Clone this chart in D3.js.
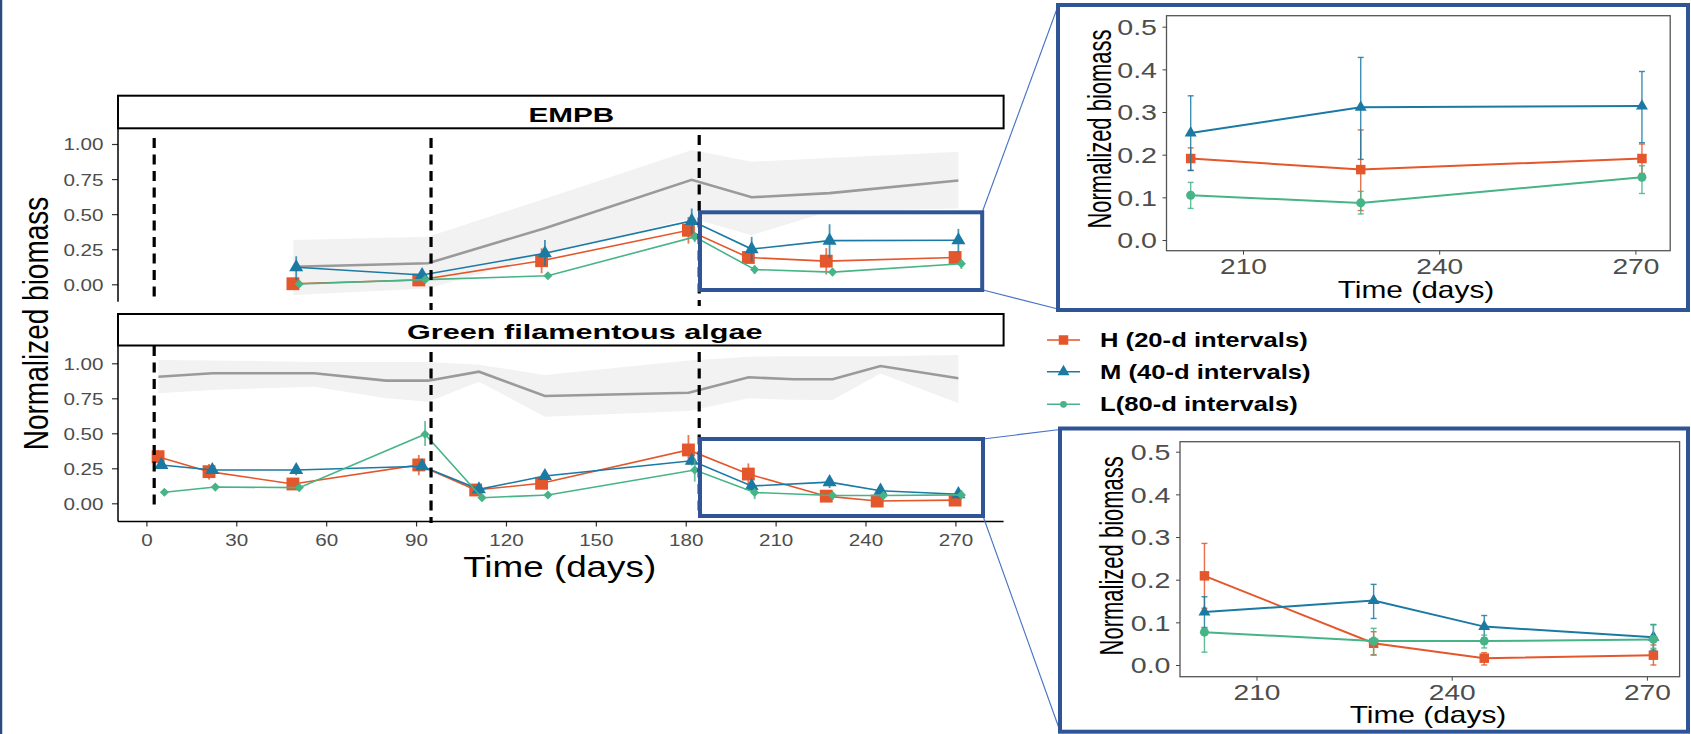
<!DOCTYPE html>
<html>
<head>
<meta charset="utf-8">
<script src="https://cdn.jsdelivr.net/npm/d3@7"></script>
<style>
  body { margin: 0; background: #fff; }
  svg { display: block; }
</style>
</head>
<body>
<div id="chart"></div>
<script>
// sampling days and normalized biomass (mean, lower, upper)
var seriesNames = ['H (20-d intervals)', 'M (40-d intervals)', 'L(80-d intervals)'];
var vlineDays = [2.6, 95, 184.5];

var empbDays = [50, 92, 133, 182, 202, 228, 271];
var empbH = [0.004, 0.031, 0.168, 0.385, 0.191, 0.165, 0.191];
var empbHLo = [0.0, 0.015, 0.079, 0.29, 0.163, 0.069, 0.156];
var empbHHi = [0.01, 0.05, 0.257, 0.48, 0.216, 0.258, 0.225];
var empbM = [0.121, 0.066, 0.221, 0.452, 0.251, 0.311, 0.314];
var empbMLo = [0.03, 0.04, 0.13, 0.36, 0.163, 0.189, 0.228];
var empbMHi = [0.2, 0.09, 0.316, 0.54, 0.338, 0.428, 0.395];
var empbL = [0.002, 0.033, 0.061, 0.338, 0.105, 0.087, 0.147];
var empbLLo = [0.0, 0.02, 0.05, 0.3, 0.074, 0.061, 0.109];
var empbLHi = [0.01, 0.045, 0.07, 0.37, 0.135, 0.114, 0.174];

var algaeDays = [5, 22, 50, 92, 111, 133, 182, 202, 228, 245, 271];
var algaeH = [0.333, 0.226, 0.138, 0.274, 0.095, 0.143, 0.381, 0.209, 0.051, 0.016, 0.023];
var algaeHLo = [0.29, 0.17, 0.12, 0.2, 0.08, 0.12, 0.274, 0.133, 0.024, 0.0, 0.0];
var algaeHHi = [0.38, 0.28, 0.16, 0.345, 0.11, 0.17, 0.488, 0.285, 0.078, 0.029, 0.047];
var algaeM = [0.274, 0.238, 0.238, 0.265, 0.1, 0.195, 0.304, 0.124, 0.151, 0.09, 0.065];
var algaeMLo = [0.25, 0.21, 0.2, 0.24, 0.08, 0.17, 0.27, 0.088, 0.109, 0.064, 0.035];
var algaeMHi = [0.3, 0.265, 0.27, 0.29, 0.12, 0.22, 0.335, 0.16, 0.189, 0.116, 0.095];
var algaeL = [0.079, 0.116, 0.112, 0.493, 0.04, 0.059, 0.238, 0.077, 0.056, 0.056, 0.06];
var algaeLLo = [0.07, 0.105, 0.1, 0.41, 0.03, 0.05, 0.155, 0.03, 0.023, 0.04, 0.039];
var algaeLHi = [0.09, 0.127, 0.125, 0.588, 0.05, 0.068, 0.32, 0.086, 0.086, 0.07, 0.094];

// grey reference (control) line with its band
var ctrlEmpbDays = [49, 94, 133, 182, 202, 228, 271];
var ctrlEmpb = [0.125, 0.15, 0.4, 0.745, 0.62, 0.65, 0.74];
var ctrlEmpbLo = [-0.076, -0.03, 0.21, 0.47, 0.35, 0.52, 0.54];
var ctrlEmpbHi = [0.316, 0.339, 0.61, 0.957, 0.874, 0.9, 0.945];

var ctrlAlgaeDays = [4, 22, 56, 80, 94, 111, 133, 181, 201, 216, 229, 245, 271];
var ctrlAlgae = [0.904, 0.929, 0.929, 0.876, 0.876, 0.94, 0.766, 0.79, 0.9, 0.886, 0.886, 0.981, 0.893];
var ctrlAlgaeLo = [0.786, 0.81, 0.833, 0.75, 0.726, 0.869, 0.619, 0.66, 0.75, 0.74, 0.738, 0.928, 0.714];
var ctrlAlgaeHi = [1.024, 1.02, 1.01, 1.01, 1.01, 0.99, 0.916, 1.02, 1.047, 1.05, 1.05, 1.05, 1.06];

var mainXTicks = [0, 30, 60, 90, 120, 150, 180, 210, 240, 270];
var mainYTicks = [0, 0.25, 0.5, 0.75, 1];
var insetXTicks = [210, 240, 270];
var insetYTicks = [0, 0.1, 0.2, 0.3, 0.4, 0.5];

var colors = ['#E4562B', '#1A7AA3', '#46B487'];
var dodge = [-1.1, 0, 1];
var frameBlue = '#2F5597';
var font = '"Liberation Sans", Arial, Helvetica, sans-serif';

var W = 1691, H = 734;

var svg = d3.select('#chart')
  .append('svg')
  .attr('width', W)
  .attr('height', H)
  .style('font-family', font);

svg.append('rect').attr('width', W).attr('height', H).attr('fill', '#fff');

var rows = function(days, vals, lo, hi) {
  return days.map(function(d, i) {
    return { d: d, v: vals[i], lo: lo[i], hi: hi[i] };
  });
};

// text that is stretched horizontally like the original picture
var label = function(parent, x, y, txt, o) {
  var t = 'translate(' + x + ',' + y + ') scale(' + (o.sx || 1) + ',1)';
  if (o.rotate) t += ' rotate(-90)';
  return parent.append('text')
    .attr('transform', t)
    .attr('text-anchor', o.anchor || 'middle')
    .attr('font-size', o.size)
    .attr('font-weight', o.bold ? 'bold' : 'normal')
    .attr('fill', o.fill || '#000')
    .text(txt);
};

var symbolFor = function(i, inset) {
  if (i === 0) return d3.symbol().type(d3.symbolSquare).size(inset ? 90 : 165)();
  if (i === 1) return d3.symbol().type(d3.symbolTriangle).size(inset ? 62 : 85)();
  if (inset) return d3.symbol().type(d3.symbolCircle).size(64)();
  return d3.symbol().type(d3.symbolSquare).size(42)();
};

var x = d3.scaleLinear().domain([0, 270]).range([146.4, 955.4]);

var panels = [
  {
    name: 'EMPB', labelX: 571.4, labelW: 85.7,
    y: d3.scaleLinear().domain([0, 1]).range([284.3, 144]),
    strip: [95.7, 128.3], bottom: 301.7,
    days: empbDays,
    series: [[empbH, empbHLo, empbHHi], [empbM, empbMLo, empbMHi], [empbL, empbLLo, empbLHi]],
    ctrl: rows(ctrlEmpbDays, ctrlEmpb, ctrlEmpbLo, ctrlEmpbHi),
    dash: [[138, 302], [138, 310], [135, 306]],
    box: [700, 212.3, 982.2, 290]
  },
  {
    name: 'Green filamentous algae', labelX: 584.8, labelW: 355.5,
    y: d3.scaleLinear().domain([0, 1]).range([503.3, 363.3]),
    strip: [314, 345.5], bottom: 521.5,
    days: algaeDays,
    series: [[algaeH, algaeHLo, algaeHHi], [algaeM, algaeMLo, algaeMHi], [algaeL, algaeLLo, algaeLHi]],
    ctrl: rows(ctrlAlgaeDays, ctrlAlgae, ctrlAlgaeLo, ctrlAlgaeHi),
    dash: [[346, 511], [352, 523], [352, 516]],
    box: [700, 439, 983, 516]
  }
];

var left = 118, right = 1003.6;

panels.forEach(function(p, pi) {
  var g = svg.append('g');
  var y = p.y;

  // strip
  g.append('rect')
    .attr('x', left).attr('y', p.strip[0])
    .attr('width', right - left).attr('height', p.strip[1] - p.strip[0])
    .attr('fill', '#fff').attr('stroke', '#000').attr('stroke-width', 2);
  g.append('text')
    .attr('x', p.labelX - p.labelW / 2)
    .attr('y', p.strip[1] - 6.5)
    .attr('font-size', 21).attr('font-weight', 'bold')
    .attr('textLength', p.labelW).attr('lengthAdjust', 'spacingAndGlyphs')
    .text(p.name);

  // control band and line
  g.append('path')
    .datum(p.ctrl)
    .attr('fill', '#F2F2F2')
    .attr('d', d3.area().x(function(d) { return x(d.d); })
      .y0(function(d) { return y(d.lo); }).y1(function(d) { return y(d.hi); }));
  g.append('path')
    .datum(p.ctrl)
    .attr('fill', 'none').attr('stroke', '#9A9A9A').attr('stroke-width', 2.6)
    .attr('d', d3.line().x(function(d) { return x(d.d); }).y(function(d) { return y(d.v); }));

  // treatment series
  p.series.forEach(function(s, si) {
    var data = rows(p.days, s[0], s[1], s[2]);
    var sx = function(d) { return x(d.d + dodge[si]); };
    g.append('path')
      .datum(data)
      .attr('fill', 'none').attr('stroke', colors[si]).attr('stroke-width', 1.6)
      .attr('d', d3.line().x(sx).y(function(d) { return y(d.v); }));
    g.selectAll('.err' + si)
      .data(data)
      .enter().append('line')
      .attr('x1', sx).attr('x2', sx)
      .attr('y1', function(d) { return y(d.lo); })
      .attr('y2', function(d) { return y(d.hi); })
      .attr('stroke', colors[si]).attr('stroke-opacity', 0.8).attr('stroke-width', 1.8);
    g.selectAll('.pt' + si)
      .data(data)
      .enter().append('path')
      .attr('d', symbolFor(si, false))
      .attr('transform', function(d) {
        return 'translate(' + sx(d) + ',' + y(d.v) + ')' + (si === 2 ? ' rotate(45)' : '');
      })
      .attr('fill', colors[si]);
  });

  // y axis
  var ay = d3.axisLeft(y).tickValues(mainYTicks).tickFormat(d3.format('.2f')).tickSize(6);
  var gy = g.append('g').attr('transform', 'translate(' + left + ',0)').call(ay);
  gy.select('.domain').remove();
  gy.selectAll('line').attr('stroke', '#333').attr('stroke-width', 1.2);
  gy.selectAll('text')
    .attr('x', -11.6).attr('dy', '0.36em')
    .attr('transform', 'scale(1.25,1)')
    .attr('font-size', 16.5).attr('font-family', font).attr('fill', '#4D4D4D');
  g.append('line')
    .attr('x1', left).attr('x2', left)
    .attr('y1', p.strip[1]).attr('y2', p.bottom)
    .attr('stroke', '#000').attr('stroke-width', 1.5);

  // dashed markers of the intervals
  vlineDays.forEach(function(d, i) {
    g.append('line')
      .attr('x1', x(d)).attr('x2', x(d))
      .attr('y1', p.dash[i][0]).attr('y2', p.dash[i][1])
      .attr('stroke', '#000').attr('stroke-width', 3.2)
      .attr('stroke-dasharray', '10,6.5');
  });

  p.g = g;
});

// shared x axis under the lower panel
var gx = svg.append('g')
  .attr('transform', 'translate(0,' + panels[1].bottom + ')')
  .call(d3.axisBottom(x).tickValues(mainXTicks).tickSize(5));
gx.select('.domain').remove();
gx.selectAll('line').attr('stroke', '#333').attr('stroke-width', 1.2);
gx.selectAll('text')
  .attr('y', 12.5)
  .attr('transform', 'scale(1.25,1)')
  .attr('font-size', 16.5).attr('font-family', font).attr('fill', '#4D4D4D');
svg.append('line')
  .attr('x1', left).attr('x2', right)
  .attr('y1', panels[1].bottom).attr('y2', panels[1].bottom)
  .attr('stroke', '#000').attr('stroke-width', 1.5);

label(svg, 559.7, 577, 'Time (days)', { size: 29, sx: 1.27 });
label(svg, 48, 323.5, 'Normalized biomass', { size: 28, sx: 1.25, rotate: true });

// legend
var legendY = [340, 371.7, 404.3];
seriesNames.forEach(function(name, i) {
  var g = svg.append('g');
  g.append('line')
    .attr('x1', 1047).attr('x2', 1080)
    .attr('y1', legendY[i]).attr('y2', legendY[i])
    .attr('stroke', colors[i]).attr('stroke-width', 1.6);
  g.append('path')
    .attr('d', i === 2 ? d3.symbol().type(d3.symbolCircle).size(36)() : symbolFor(i, true))
    .attr('transform', 'translate(1063.5,' + legendY[i] + ')')
    .attr('fill', colors[i]);
  label(g, 1100, legendY[i] + 7, name, { size: 21, sx: 1.22, bold: true, anchor: 'start' });
});

// zoomed insets of the last three months
var insets = [
  {
    panel: 0, frame: [1058, 5, 1688, 310],
    plot: [1166.5, 15.7, 1670.2, 250.7],
    x: d3.scaleLinear().domain([210, 270]).range([1243, 1635.4]),
    y: d3.scaleLinear().domain([0, 0.5]).range([240, 26.7]),
    titleX: 1416, titleY: 298.3, ytitleX: 1110.5, ytitleY: 129,
    link: [[982.2, 212.3, 1058, 6], [983, 290, 1058, 309]]
  },
  {
    panel: 1, frame: [1060, 428.5, 1688, 731.7],
    plot: [1180, 441.7, 1679.6, 676.7],
    x: d3.scaleLinear().domain([210, 270]).range([1256.5, 1646.9]),
    y: d3.scaleLinear().domain([0, 0.5]).range([665, 451.7]),
    titleX: 1428, titleY: 723, ytitleX: 1122.8, ytitleY: 555.8,
    link: [[983, 439, 1060, 429.5], [983, 516, 1060, 731]]
  }
];

insets.forEach(function(ins) {
  var p = panels[ins.panel];
  var g = svg.append('g');
  var xs = ins.x, ys = ins.y;

  g.append('rect')
    .attr('x', ins.plot[0]).attr('y', ins.plot[1])
    .attr('width', ins.plot[2] - ins.plot[0]).attr('height', ins.plot[3] - ins.plot[1])
    .attr('fill', '#fff').attr('stroke', '#555').attr('stroke-width', 1.3);

  p.series.forEach(function(s, si) {
    var data = rows(p.days, s[0], s[1], s[2]).filter(function(d) { return d.d >= 200; });
    g.append('path')
      .datum(data)
      .attr('fill', 'none').attr('stroke', colors[si]).attr('stroke-width', 2)
      .attr('d', d3.line().x(function(d) { return xs(d.d); }).y(function(d) { return ys(d.v); }));
    var eb = g.selectAll('.ie' + si).data(data).enter().append('g')
      .attr('stroke', colors[si]).attr('stroke-width', 1.4).attr('stroke-opacity', 0.85);
    eb.append('line')
      .attr('x1', function(d) { return xs(d.d); }).attr('x2', function(d) { return xs(d.d); })
      .attr('y1', function(d) { return ys(d.lo); }).attr('y2', function(d) { return ys(d.hi); });
    eb.append('line')
      .attr('x1', function(d) { return xs(d.d) - 3; }).attr('x2', function(d) { return xs(d.d) + 3; })
      .attr('y1', function(d) { return ys(d.lo); }).attr('y2', function(d) { return ys(d.lo); });
    eb.append('line')
      .attr('x1', function(d) { return xs(d.d) - 3; }).attr('x2', function(d) { return xs(d.d) + 3; })
      .attr('y1', function(d) { return ys(d.hi); }).attr('y2', function(d) { return ys(d.hi); });
    g.selectAll('.ip' + si)
      .data(data)
      .enter().append('path')
      .attr('d', symbolFor(si, true))
      .attr('transform', function(d) { return 'translate(' + xs(d.d) + ',' + ys(d.v) + ')'; })
      .attr('fill', colors[si]);
  });

  var gy = g.append('g').attr('transform', 'translate(' + ins.plot[0] + ',0)')
    .call(d3.axisLeft(ys).tickValues(insetYTicks).tickFormat(d3.format('.1f')).tickSize(4));
  gy.select('.domain').remove();
  gy.selectAll('line').attr('stroke', '#444');
  gy.selectAll('text')
    .attr('x', -7.3).attr('dy', '0.36em')
    .attr('transform', 'scale(1.3,1)')
    .attr('font-size', 22).attr('font-family', font).attr('fill', '#4D4D4D');

  var gx = g.append('g').attr('transform', 'translate(0,' + ins.plot[3] + ')')
    .call(d3.axisBottom(xs).tickValues(insetXTicks).tickSize(4));
  gx.select('.domain').remove();
  gx.selectAll('line').attr('stroke', '#444');
  gx.selectAll('text')
    .attr('y', 8).attr('transform', 'scale(1.28,1)')
    .attr('font-size', 22).attr('font-family', font).attr('fill', '#4D4D4D');

  label(g, ins.titleX, ins.titleY, 'Time (days)', { size: 23, sx: 1.3 });
  label(g, ins.ytitleX, ins.ytitleY, 'Normalized biomass', { size: 22, sx: 1.48, rotate: true });

  // frame, zoom box and connecting lines
  ins.link.forEach(function(l) {
    svg.append('line')
      .attr('x1', l[0]).attr('y1', l[1]).attr('x2', l[2]).attr('y2', l[3])
      .attr('stroke', '#4472C4').attr('stroke-width', 1.1);
  });
  svg.append('rect')
    .attr('x', p.box[0]).attr('y', p.box[1])
    .attr('width', p.box[2] - p.box[0]).attr('height', p.box[3] - p.box[1])
    .attr('fill', 'none').attr('stroke', frameBlue).attr('stroke-width', 4);
  svg.append('rect')
    .attr('x', ins.frame[0]).attr('y', ins.frame[1])
    .attr('width', ins.frame[2] - ins.frame[0]).attr('height', ins.frame[3] - ins.frame[1])
    .attr('fill', 'none').attr('stroke', frameBlue).attr('stroke-width', 4);
});

// dark edge on the left of the slide
svg.append('line')
  .attr('x1', 1).attr('x2', 1).attr('y1', 0).attr('y2', H)
  .attr('stroke', '#2B4A7E').attr('stroke-width', 2.5);
</script>
</body>
</html>
